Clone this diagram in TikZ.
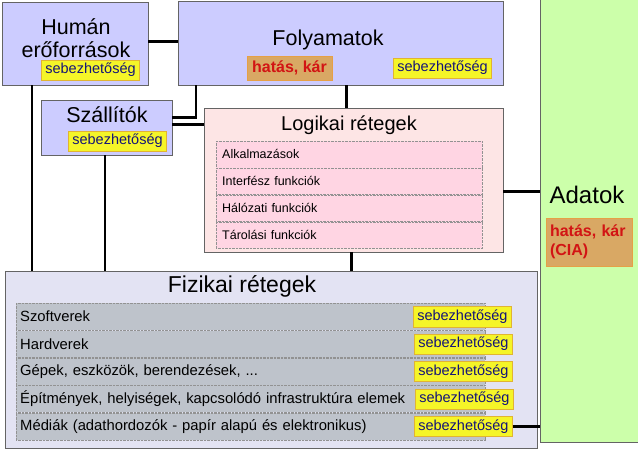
\documentclass[tikz,border=0pt]{standalone}
\usepackage{fontspec}
\setmainfont{Liberation Sans}
\usetikzlibrary{positioning,calc}
\definecolor{lavender}{RGB}{204,204,255}
\definecolor{boxline}{RGB}{100,100,100}
\definecolor{logfill}{RGB}{253,229,229}
\definecolor{logrowfill}{RGB}{255,213,227}
\definecolor{fizfill}{RGB}{227,227,243}
\definecolor{fizrowfill}{RGB}{190,195,203}
\definecolor{adatfill}{RGB}{204,255,170}
\definecolor{vulnyellow}{RGB}{245,245,40}
\definecolor{goldline}{RGB}{225,180,50}
\definecolor{vulntext}{RGB}{20,20,120}
\definecolor{impactfill}{RGB}{217,168,100}
\definecolor{orangeline}{RGB}{230,160,70}
\definecolor{impactred}{RGB}{210,20,20}

\begin{document}
\begin{tikzpicture}[x=1pt,y=-1pt,
 unit/.style={draw=boxline,fill=lavender,anchor=north west,inner sep=0pt},
 title/.style={align=center,inner sep=0pt,font=\fontsize{21.5}{23}\selectfont},
 sebez/.style={draw=goldline,fill=vulnyellow,text=vulntext,inner xsep=4pt,minimum height=20pt,font=\fontsize{14.5}{16}\selectfont},
 impact/.style={draw=orangeline,fill=impactfill,text=impactred,align=left,font=\bfseries\fontsize{16}{19}\selectfont},
 logrow/.style={draw=boxline!70,densely dotted,fill=logrowfill,anchor=north west,text width=254pt,inner xsep=6pt,minimum height=26.5pt,font=\fontsize{12.5}{14}\selectfont},
 fizrow/.style={draw=boxline!70,densely dotted,fill=fizrowfill,anchor=north west,text width=461pt,inner xsep=4pt,minimum height=27pt,font=\fontsize{14.8}{16}\selectfont},
 link/.style={line width=2.8pt}]
\useasboundingbox (0,0) rectangle (638,450);
% data box on the right
\node[unit,fill=adatfill,minimum width=101pt,minimum height=443pt] (adat) at (540,-1) {};
\node[inner sep=0pt,font=\fontsize{24}{26}\selectfont] (adattitle) at (587,195) {Adatok};
\node[impact,minimum width=86pt,minimum height=48pt,text width=78pt,inner xsep=4pt] (cia) at (589,242) {hatás, kár\\(CIA)};
% upper boxes
\node[unit,minimum width=146pt,minimum height=83pt] (human) at (2,2) {};
\node[title] (humantitle) at (76,38) {Humán\\erőforrások};
\node[sebez] (hvuln) at (90.5,70) {sebezhetőség};
\node[unit,minimum width=325pt,minimum height=84pt] (folya) at (178,1) {};
\node[title] (folyatitle) at (328,40) {Folyamatok};
\node[impact,minimum width=85pt,minimum height=24pt] (fimpact) at (289.5,68) {hatás, kár};
\node[sebez] (fvuln) at (442.5,68) {sebezhetőség};
\node[unit,minimum width=131pt,minimum height=55pt] (szall) at (41,100) {};
\node[title] (szalltitle) at (107,115) {Szállítók};
\node[sebez] (svuln) at (117.5,141) {sebezhetőség};
% logical layers
\node[unit,fill=logfill,minimum width=299pt,minimum height=144pt] (logik) at (204,108) {};
\node[inner sep=0pt,font=\fontsize{20}{23}\selectfont] (logiktitle) at (349,125) {Logikai rétegek};
\node[logrow] (lr1) at (216,141) {Alkalmazások};
\node[logrow,below=0pt of lr1] (lr2) {Interfész funkciók};
\node[logrow,below=0pt of lr2] (lr3) {Hálózati funkciók};
\node[logrow,below=0pt of lr3] (lr4) {Tárolási funkciók};
% physical layers
\node[unit,fill=fizfill,minimum width=532pt,minimum height=177pt] (fiz) at (5,271) {};
\node[inner sep=0pt,font=\fontsize{23}{26}\selectfont] (fiztitle) at (242,286) {Fizikai rétegek};
\node[fizrow] (fr1) at (16,303) {Szoftverek};
\node[fizrow,below=0pt of fr1] (fr2) {Hardverek};
\node[fizrow,below=0pt of fr2] (fr3) {Gépek, eszközök, berendezések, ...};
\node[fizrow,below=0pt of fr3] (fr4) {Építmények, helyiségek, kapcsolódó infrastruktúra elemek};
\node[fizrow,below=0pt of fr4] (fr5) {Médiák (adathordozók - papír alapú és elektronikus)};
\node[sebez] (v1) at ([xshift=-23pt]fr1.east) {sebezhetőség};
\node[sebez] (v2) at ([xshift=-22pt]fr2.east) {sebezhetőség};
\node[sebez] (v3) at ([xshift=-22pt]fr3.east) {sebezhetőség};
\node[sebez] (v4) at ([xshift=-21pt]fr4.east) {sebezhetőség};
\node[sebez] (v5) at ([xshift=-22pt]fr5.east) {sebezhetőség};
% connectors
\draw[link] ([yshift=2pt]human.east) -- ([yshift=2pt]human.east -| folya.west);
\draw[link] ([xshift=18pt]folya.south west) |- ([yshift=10pt]szall.east);
\draw[link] ([yshift=3pt]szall.east) -- ([yshift=3pt]szall.east -| logik.west);
\draw[link] ([xshift=5.5pt]folya.south) -- ([xshift=5.5pt]folya.south |- logik.north);
\draw[link] ([xshift=-2.5pt]logik.south) -- ([xshift=-2.5pt]logik.south |- fiz.north);
\draw[link] ([yshift=-11pt]logik.east) -- ([yshift=-11pt]logik.east -| adat.west);
\draw[link] ([xshift=30pt]human.south west) -- ([xshift=30pt]human.south west |- fiz.north);
\draw[link] ([xshift=64pt]szall.south west) -- ([xshift=64pt]szall.south west |- fiz.north);
\draw[link] (v5.east) -- (v5.east -| adat.west);
\end{tikzpicture}
\end{document}
